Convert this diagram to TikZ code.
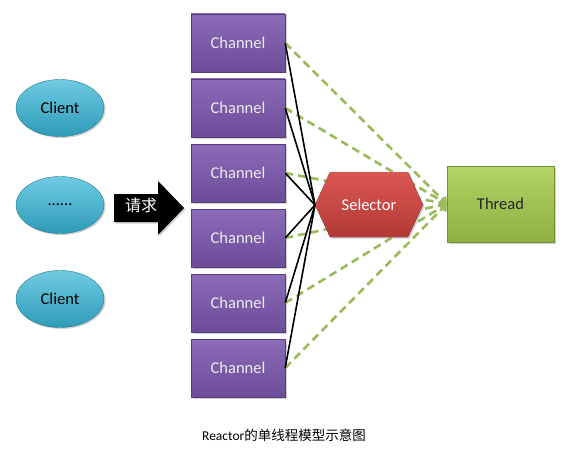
\documentclass[tikz,border=0pt]{standalone}
\usepackage{fontspec}
\setmainfont{Carlito}
\newfontfamily\cjk{Noto Sans CJK SC}
\usetikzlibrary{shapes.geometric,arrows.meta,shadows}
\definecolor{chtop}{HTML}{8C6CB8}
\definecolor{chbot}{HTML}{6C4C98}
\definecolor{cltop}{HTML}{6FCBE2}
\definecolor{clbot}{HTML}{2E9BB8}
\definecolor{setop}{HTML}{DC5652}
\definecolor{sebot}{HTML}{B23A36}
\definecolor{thtop}{HTML}{B2D464}
\definecolor{thbot}{HTML}{8DB043}
\definecolor{dashg}{HTML}{9BBB59}
\tikzset{
  shad/.style={drop shadow={opacity=0.35,shadow xshift=1.5pt,shadow yshift=-1.5pt}},
  lbl/.style={font=\fontsize{16.5}{19}\selectfont},
  chbox/.style={rectangle,minimum width=94pt,minimum height=58pt,top color=chtop,bottom color=chbot,draw=chbot!80!black,line width=0.4pt,shad,text=white!92!black,lbl},
  clientnode/.style={ellipse,minimum width=88pt,minimum height=57pt,top color=cltop,bottom color=clbot,draw=clbot!80!black,line width=0.4pt,shad,text=black,lbl},
  thrnode/.style={rectangle,minimum width=107pt,minimum height=76pt,top color=thtop,bottom color=thbot,draw=thbot!80!black,line width=0.4pt,shad,text=black!85,lbl},
  solidlink/.style={draw=black,line width=1.6pt},
  dashlink/.style={draw=dashg,line width=2.6pt,dash pattern=on 8pt off 5pt,-{Straight Barb[length=5pt,width=9pt,line width=1.6pt]}}
}
\begin{document}
\begin{tikzpicture}[x=1pt,y=-1pt]
\useasboundingbox[fill=white] (0,0) rectangle (587,452);
% clients
\node[clientnode] (c1) at (60,108) {Client};
\node[clientnode] (c2) at (60,205) {......};
\node[clientnode] (c3) at (60,299) {Client};
% request arrow
\fill[black,shad] (114,194) -- (158,194) -- (158,181) -- (184,208) -- (158,235) -- (158,222) -- (114,222) -- cycle;
\node[text=white,font=\cjk\fontsize{16}{19}\selectfont] (req) at (141,205) {请求};
% channels
\foreach \i/\y in {1/43,2/108,3/173,4/238,5/303,6/368}{
  \node[chbox] (ch\i) at (238,\y) {Channel};
}
% thread
\node[thrnode] (thr) at (500.5,204) {Thread};
% dashed links (behind the selector)
\foreach \i in {1,...,6}{
  \draw[dashlink] (ch\i.east) -- (thr.west);
}
% selector
\fill[top color=setop,bottom color=sebot,shad] (315,205) -- (330,172) -- (408,172) -- (423,205) -- (408,237) -- (330,237) -- cycle;
\coordinate (selL) at (315,205);
\node[text=white,lbl] (sel) at (369,205) {Selector};
% solid links
\foreach \i in {1,...,6}{
  \draw[solidlink] (ch\i.east) -- (selL);
}
% caption
\node[font=\fontsize{13.5}{16}\selectfont] (cap) at (284,435) {Reactor{\cjk 的单线程模型示意图}};
\end{tikzpicture}
\end{document}
